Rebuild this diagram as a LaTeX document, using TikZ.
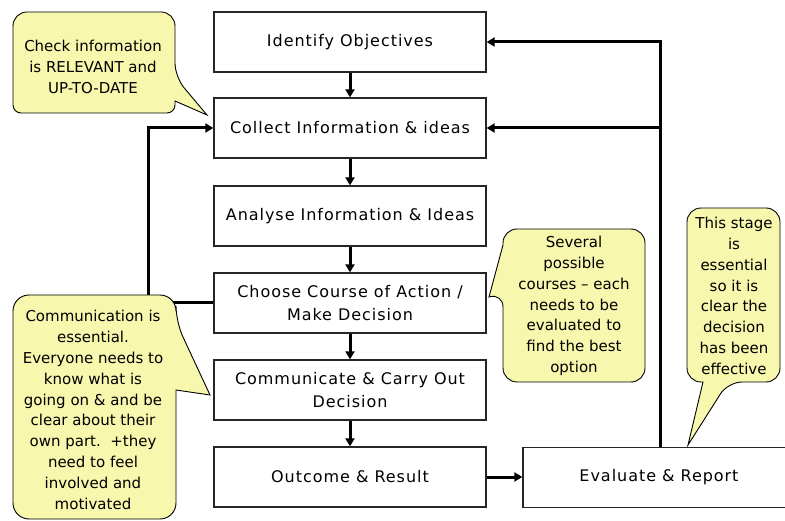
\documentclass[tikz,border=0pt]{standalone}
\usepackage{fontspec}
\setmainfont{DejaVu Sans}
\newfontfamily\boxfont[LetterSpace=6]{DejaVu Sans}
\newfontfamily\notefont{DejaVu Sans}
\usetikzlibrary{arrows.meta}
\definecolor{notefill}{HTML}{F7F7AE}
\begin{document}
\begin{tikzpicture}[x=1pt,y=-1pt,
  stepbox/.style={draw=black!85, line width=1.3pt, fill=white, minimum width=272pt, minimum height=60pt, inner sep=0pt, align=center, font=\boxfont\fontsize{16}{23.5}\selectfont},
  link/.style={line width=3pt, draw=black},
  arr/.style={link, -{Triangle[length=8pt,width=9pt]}},
  bubble/.style={draw=black, line width=0.9pt, fill=notefill},
  notetext/.style={align=center, inner sep=0pt, font=\notefont\fontsize{15}{20.8}\selectfont}]
\clip (0,0) rectangle (785,521);
\fill[white] (0,0) rectangle (785,521);

% process boxes
\node[stepbox] (obj) at (350,42) {Identify Objectives};
\node[stepbox] (collect) at (350,128) {Collect Information \& ideas};
\node[stepbox] (analyse) at (350,216) {Analyse Information \& Ideas};
\node[stepbox] (choose) at (350,303) {Choose Course of Action /\\Make Decision};
\node[stepbox] (comm) at (350,390) {Communicate \& Carry Out\\Decision};
\node[stepbox] (outcome) at (350,477) {Outcome \& Result};
\node[stepbox] (evaluate) at (659,477.5) {Evaluate \& Report};

% connectors
\draw[arr] (obj) -- (collect);
\draw[arr] (collect) -- (analyse);
\draw[arr] (analyse) -- (choose);
\draw[arr] (choose) -- (comm);
\draw[arr] (comm) -- (outcome);
\draw[arr] (outcome.east) -- (outcome.east -| evaluate.west);
\coordinate (fb) at (660,42);
\draw[arr] (evaluate.north -| fb) |- (obj.east);
\draw[arr] (fb |- collect.east) -- (collect.east);
\coordinate (lp) at (148,303);
\draw[arr] (choose.west) -| (lp |- collect.west) -- (collect.west);

% callouts
\draw[bubble, rounded corners=14pt] (13,60) -- (13,12) -- (175,12) -- (175,77) [sharp corners] -- (207,115) -- (175,101) [rounded corners=8pt] -- (175,113) -- (13,113) -- cycle;
\node[notetext] (n1) at (93,67) {Check information\\is RELEVANT and\\UP-TO-DATE};

\draw[bubble, rounded corners=16pt] (13,400) -- (13,295) -- (176,295) -- (176,322) [sharp corners] -- (210,395) -- (176,390) [rounded corners=16pt] -- (176,519) -- (13,519) -- cycle;
\node[notetext] (n2) at (93,410) {Communication is\\essential.\\Everyone needs to\\know what is\\going on \& and be\\clear about their\\own part.\ \ +they\\need to feel\\involved and\\motivated};

\draw[bubble, rounded corners=14pt] (503,320) -- (503,293) [sharp corners] -- (489,297) -- (503,245) [rounded corners=14pt] -- (503,229) -- (645,229) -- (645,382) -- (503,382) -- cycle;
\node[notetext] (n3) at (574,306) {Several\\possible\\courses – each\\needs to be\\evaluated to\\find the best\\option};

\draw[bubble, rounded corners=14pt] (687,300) -- (687,208) -- (780,208) -- (780,382) -- (728,382) [sharp corners] -- (688,445) -- (703,382) [rounded corners=14pt] -- (687,382) -- cycle;
\node[notetext] (n4) at (734,296) {This stage\\is\\essential\\so it is\\clear the\\decision\\has been\\effective};
\end{tikzpicture}
\end{document}
